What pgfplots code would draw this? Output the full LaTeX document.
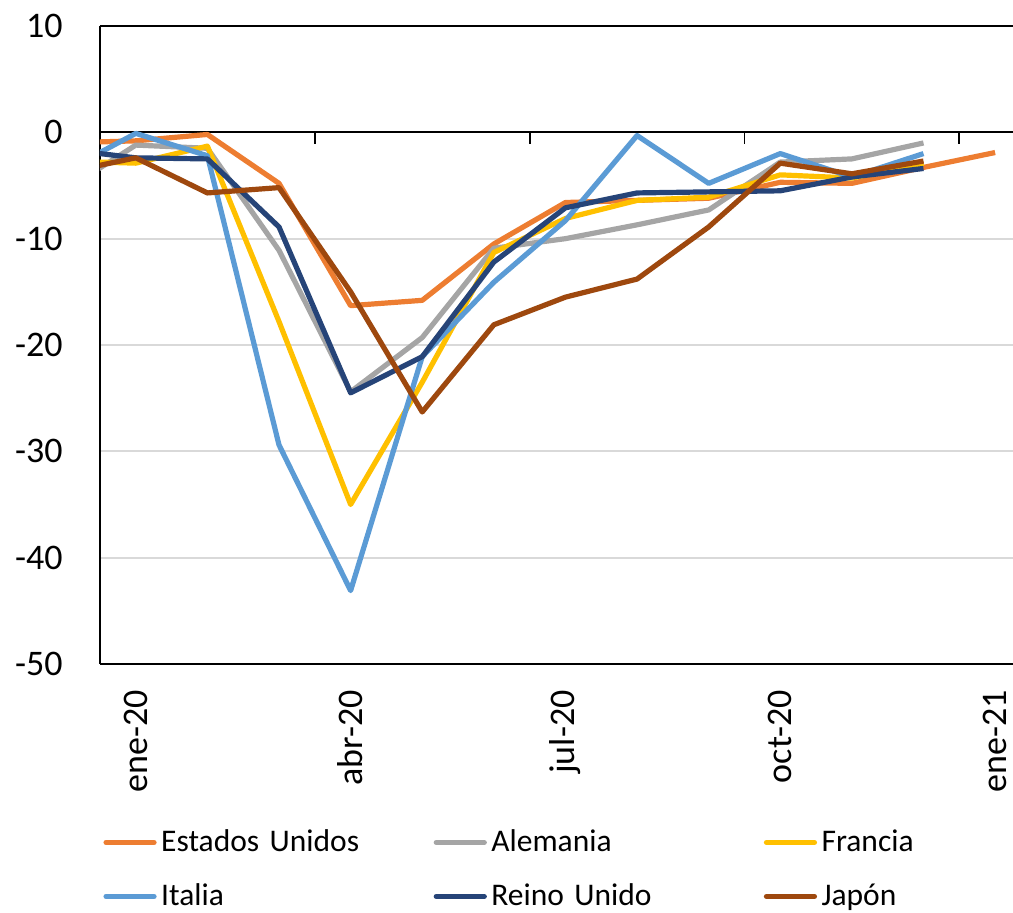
\documentclass[border=0pt]{standalone}
\usepackage{fontspec}
\setmainfont{Carlito}
\usepackage{pgfplots}
\pgfplotsset{compat=1.18}

\definecolor{cUS}{HTML}{ED7D31}
\definecolor{cDE}{HTML}{A5A5A5}
\definecolor{cFR}{HTML}{FFC000}
\definecolor{cIT}{HTML}{5B9BD5}
\definecolor{cUK}{HTML}{264478}
\definecolor{cJP}{HTML}{9E480E}
\definecolor{gridgray}{HTML}{D9D9D9}

% month index: 0 = ene-20, -1 = dic-19 (clipped at the left edge)
\begin{document}
\begin{tikzpicture}
\begin{axis}[
    scale only axis,
    width=456.5pt, height=319pt,
    xmin=-0.5, xmax=12.25,
    ymin=-50, ymax=10,
    axis x line*=box, axis y line*=left,
    axis line style={-, black, line width=0.9pt},
    xtick={0,3,6,9,12},
    xticklabels={ene-20,abr-20,jul-20,oct-20,ene-21},
    ytick={-50,-40,...,10},
    yticklabels={-50,-40,-30,-20,-10,0,10},
    major tick length=0pt,
    tick label style={font=\fontsize{18}{20}\selectfont, inner sep=0pt},
    xticklabel style={yshift=-13pt, rotate=90, anchor=east},
    yticklabel style={xshift=-18.5pt, anchor=east},
    ymajorgrids,
    grid style={draw=gridgray, line width=1pt},
    legend columns=3,
    legend style={
        at={(axis description cs:0.0038,-0.2625)}, anchor=north west,
        draw=none, fill=none, inner sep=0pt, outer sep=0pt,
        column sep=0pt, row sep=14pt,
        font=\fontsize{15.75}{18}\selectfont,
        nodes={inner xsep=2.25pt, inner ysep=0pt, text width=134pt,
               text height=10pt, text depth=3pt, align=left, anchor=west},
    },
    legend image code/.code={\draw[#1, line cap=round] (0pt,1pt) -- (24pt,1pt);},
    every axis plot/.append style={line width=2.6pt, line join=round},
]
\coordinate (sw) at (rel axis cs:0,0);
\coordinate (ne) at (rel axis cs:1,1);

% horizontal axis at zero with its tick marks
\draw[black, line width=0.9pt] (axis cs:-0.5,0) -- (axis cs:12.25,0);
\draw[black, line width=0.9pt] (axis cs:2.5,0) -- ++(0pt,-6pt);
\draw[black, line width=0.9pt] (axis cs:5.5,0) -- ++(0pt,-6pt);
\draw[black, line width=0.9pt] (axis cs:8.5,0) -- ++(0pt,-6pt);
\draw[black, line width=0.9pt] (axis cs:11.5,0) -- ++(0pt,-6pt);

\addplot[cUS] coordinates {
    (-1,-1.0) (0,-0.8) (1,-0.2) (2,-4.8) (3,-16.3) (4,-15.8) (5,-10.5)
    (6,-6.6) (7,-6.4) (8,-6.2) (9,-4.7) (10,-4.8) (11,-3.3) (12,-1.9)
};
\addlegendentry{Estados Unidos}

\addplot[cDE] coordinates {
    (-1,-5.5) (0,-1.2) (1,-1.5) (2,-11.1) (3,-24.4) (4,-19.3) (5,-10.9)
    (6,-10.0) (7,-8.7) (8,-7.3) (9,-2.8) (10,-2.5) (11,-1.0)
};
\addlegendentry{Alemania}

\addplot[cFR] coordinates {
    (-1,-2.7) (0,-2.9) (1,-1.3) (2,-17.8) (3,-35.0) (4,-23.5) (5,-11.3)
    (6,-8.1) (7,-6.4) (8,-6.1) (9,-4.0) (10,-4.3) (11,-2.9)
};
\addlegendentry{Francia}

\addplot[cIT] coordinates {
    (-1,-3.7) (0,-0.1) (1,-2.2) (2,-29.4) (3,-43.1) (4,-21.1) (5,-14.1)
    (6,-8.3) (7,-0.3) (8,-4.8) (9,-2.0) (10,-4.2) (11,-2.0)
};
\addlegendentry{Italia}

\addplot[cUK] coordinates {
    (-1,-1.6) (0,-2.4) (1,-2.5) (2,-8.9) (3,-24.5) (4,-21.1) (5,-12.2)
    (6,-7.1) (7,-5.7) (8,-5.6) (9,-5.5) (10,-4.2) (11,-3.4)
};
\addlegendentry{Reino Unido}

\addplot[cJP] coordinates {
    (-1,-3.8) (0,-2.4) (1,-5.7) (2,-5.2) (3,-15.0) (4,-26.3) (5,-18.1)
    (6,-15.5) (7,-13.8) (8,-8.9) (9,-2.9) (10,-3.9) (11,-2.7)
};
\addlegendentry{Japón}
\end{axis}
\pgfresetboundingbox
\path ([xshift=-50pt, yshift=-124.5pt]sw) rectangle ([yshift=13pt]ne);
\end{tikzpicture}
\end{document}
